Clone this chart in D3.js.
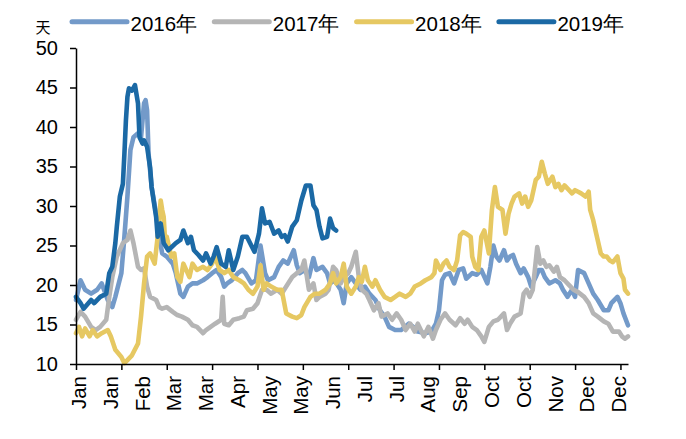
<!DOCTYPE html>
<html>
<head>
<meta charset="utf-8">
<script src="https://cdn.jsdelivr.net/npm/d3@7"></script>
<style>
  html, body { margin: 0; padding: 0; background: #fff; }
  svg text { font-family: "Liberation Sans", Arial, sans-serif; fill: #000; }
</style>
</head>
<body>
<svg id="chart" width="686" height="439"></svg>
<script>
// Series names and colours
const seriesNames = ["2016年", "2017年", "2018年", "2019年"];
const seriesColors = ["#739AC9", "#B5B5B5", "#E6C862", "#1B69A5"];

// Day of year (0 = 1 Jan) and value (天) for each year
const days2016 = [0,3,6,10,14,17,21,24,26,30,32,34,36,38,41,43,45,46,47,48,50,53,55,57,60,64,66,69,71,74,77,80,84,87,90,93,96,98,100,103,107,110,112,116,119,122,125,127,131,134,137,140,144,146,148,151,154,157,159,163,166,168,171,175,177,179,182,185,188,191,194,198,201,204,207,211,215,220,223,226,231,235,238,240,242,244,247,250,253,256,258,262,265,268,272,274,276,278,280,283,285,287,289,291,294,296,299,301,304,306,308,310,313,317,320,322,325,328,330,332,336,339,342,345,349,352,354,358,360,362,365];
const vals2016 = [18.1,20.6,19.4,18.9,19.4,20.2,18.1,17.2,18.5,21.5,26.1,31.2,37.1,38.7,39.2,38.7,43.0,43.4,42.1,36.6,32.4,29.0,26.1,24.0,23.6,22.7,21.5,18.9,18.5,19.8,20.2,20.2,20.6,21.0,21.5,21.9,21.0,19.8,20.2,20.6,21.5,21.9,21.5,20.2,20.6,25.0,21.5,20.6,21.0,22.3,23.1,22.7,24.4,22.5,21.5,21.9,21.0,23.4,21.9,22.3,21.5,20.2,20.6,19.4,17.7,20.2,21.0,20.2,19.4,19.8,18.9,18.1,16.8,16.0,14.7,14.3,14.3,15.1,14.7,14.1,13.9,14.1,15.1,16.8,20.6,21.3,21.5,20.2,21.9,22.1,20.8,21.5,21.3,21.9,20.2,22.3,25.0,23.6,23.1,24.4,23.1,23.6,23.8,22.7,21.5,22.1,21.0,19.8,21.0,21.9,21.9,21.0,20.2,20.6,20.2,19.4,18.5,19.4,18.5,21.9,21.5,20.2,18.9,18.1,16.8,16.8,17.7,18.5,17.7,16.4,14.9];

const days2017 = [0,3,6,10,13,16,20,22,24,27,31,34,36,38,41,43,45,47,49,53,55,57,60,64,67,70,74,77,80,84,86,89,92,96,97,98,101,104,108,111,113,117,120,123,126,129,133,136,139,143,146,149,151,154,157,159,161,165,167,170,172,175,177,180,182,185,187,189,192,194,197,200,202,206,209,212,215,218,221,224,226,230,233,236,238,241,244,247,251,254,257,259,262,265,268,270,273,276,279,283,285,287,290,294,296,298,300,302,305,307,309,311,313,316,318,320,323,327,329,332,336,339,342,345,349,352,355,359,361,363,365];
const vals2017 = [15.6,16.6,16.0,14.7,14.3,14.7,15.6,18.5,21.0,23.6,25.3,25.7,26.9,25.3,22.3,21.9,22.1,19.8,18.5,18.1,17.2,17.0,17.2,16.6,16.2,16.0,15.6,14.9,14.7,13.9,14.3,14.7,15.1,15.6,18.5,15.1,14.9,15.6,15.8,16.0,16.8,17.0,17.7,19.4,19.4,18.9,19.4,18.9,19.8,21.0,21.5,21.9,23.1,19.4,20.2,18.1,18.5,18.9,19.4,22.3,21.9,20.2,21.0,21.5,22.3,24.2,21.0,19.4,18.9,18.1,16.8,17.7,16.0,16.4,15.6,16.4,15.6,14.3,15.1,14.1,15.1,13.5,14.7,13.2,14.3,15.6,16.4,15.6,14.9,15.8,15.1,15.6,14.7,14.3,13.5,12.8,14.7,15.4,15.6,16.4,14.3,15.1,16.0,16.4,18.9,19.4,18.5,19.4,24.8,22.7,23.1,22.3,22.5,21.7,22.3,21.0,20.6,19.8,19.4,19.1,18.5,17.7,16.4,16.0,15.4,15.1,14.1,14.1,13.5,13.2,13.5];

const days2018 = [0,2,4,6,9,11,14,17,21,23,26,30,32,34,37,41,43,45,47,49,52,54,56,57,58,59,60,63,65,67,69,71,75,77,80,84,87,90,92,95,98,101,104,108,111,114,117,120,122,124,126,129,133,136,139,143,146,149,151,155,158,161,165,168,170,172,175,177,179,182,185,187,189,191,193,196,198,201,204,208,211,214,218,221,224,228,231,233,235,237,238,241,243,245,247,250,252,254,256,258,261,262,264,266,268,270,273,275,277,279,282,284,286,288,290,293,295,297,299,301,304,306,308,310,312,315,317,319,321,323,326,328,330,332,334,337,339,340,342,344,347,349,351,353,355,358,360,362,363,365];
const vals2018 = [13.9,14.7,13.5,14.5,13.5,14.3,13.5,13.9,14.3,13.5,11.8,10.9,10.1,10.5,11.1,12.6,16.0,20.2,23.6,24.0,22.7,26.1,30.7,29.5,28.6,25.3,26.1,23.6,24.0,21.0,20.4,22.7,21.0,22.7,21.9,22.3,21.9,22.7,23.6,21.9,21.5,21.9,21.0,20.6,20.2,19.4,18.9,19.8,22.5,19.4,20.2,19.8,19.4,19.4,16.4,16.0,15.8,16.2,17.2,18.5,18.9,18.9,19.4,20.2,21.5,20.2,21.0,22.7,19.8,18.9,19.8,21.0,20.4,22.3,20.6,19.8,20.6,19.4,18.5,18.1,18.5,18.9,18.5,18.9,19.8,20.2,20.6,20.8,21.0,21.5,23.1,21.9,22.7,23.1,22.3,21.9,23.1,26.3,26.7,26.5,26.1,23.6,22.3,21.9,26.1,26.9,24.0,29.5,32.4,29.9,29.5,26.5,29.0,30.3,31.2,31.6,30.3,31.2,29.9,30.7,33.3,33.7,35.6,34.1,32.8,33.7,32.4,32.8,32.0,32.6,32.0,31.6,32.0,31.8,31.6,31.2,31.8,29.5,28.2,26.5,24.0,23.6,23.6,23.1,22.9,23.6,21.5,20.8,19.4,18.9];

const days2019 = [0,3,5,10,12,16,20,22,24,26,27,29,31,32,33,34,35,37,39,41,42,44,45,47,49,50,53,54,56,58,61,66,69,71,74,76,78,81,84,86,89,91,93,96,99,101,104,107,110,113,118,121,123,125,128,131,134,136,138,140,143,146,149,152,155,157,159,161,163,166,168,170,172];
const vals2019 = [18.5,17.7,17.0,18.1,17.7,18.5,18.9,21.5,22.3,25.3,27.4,31.2,32.8,36.6,40.8,43.8,44.9,44.6,45.3,43.0,38.7,37.9,38.3,37.5,34.9,32.4,28.6,26.1,27.8,25.3,24.4,25.3,25.7,26.9,25.3,26.1,24.4,23.8,23.1,24.0,22.7,23.6,24.8,22.7,22.3,24.4,21.9,23.6,26.1,26.1,24.2,26.5,29.7,27.8,28.0,26.5,26.9,26.1,26.3,25.5,27.4,28.2,30.7,32.6,32.6,30.1,29.5,27.4,25.9,26.1,28.4,27.2,26.9];

// Axis ticks and labels
const yTickValues = [10, 15, 20, 25, 30, 35, 40, 45, 50];
const xTickDays = [0, 30, 60, 90, 120, 150, 180, 210, 240, 270, 300, 330, 360];
const monthLabels = ["Jan","Jan","Feb","Mar","Mar","Apr","May","May","Jun","Jul","Jul","Aug","Sep","Oct","Oct","Nov","Dec","Dec"];
const labelStepDays = 21;
const unitLabel = "天";

const seriesDays = [days2016, days2017, days2018, days2019];
const seriesVals = [vals2016, vals2017, vals2018, vals2019];
const series = seriesNames.map((name, i) => ({
  name,
  color: seriesColors[i],
  points: seriesDays[i].map((d, j) => ({ day: d, value: seriesVals[i][j] }))
}));

const svg = d3.select("#chart");
const plot = { left: 76, right: 628, top: 48, bottom: 364 };

const x = d3.scaleLinear().domain([0, 365]).range([plot.left, plot.right]);
const y = d3.scaleLinear().domain([10, 50]).range([plot.bottom, plot.top]);

// Lines
const line = d3.line().x(d => x(d.day)).y(d => y(d.value));
svg.append("g")
  .selectAll("path")
  .data(series)
  .join("path")
  .attr("d", d => line(d.points))
  .attr("fill", "none")
  .attr("stroke", d => d.color)
  .attr("stroke-width", 4.6)
  .attr("stroke-linejoin", "round")
  .attr("stroke-linecap", "round");

// Y axis
const yAxis = svg.append("g")
  .attr("transform", `translate(${plot.left},0)`)
  .call(d3.axisLeft(y).tickValues(yTickValues).tickSize(6).tickPadding(12).tickSizeOuter(0));
yAxis.selectAll("text").attr("font-size", 20).style("font-family", '"Liberation Sans", Arial, sans-serif');

// X axis with monthly-spaced tick marks
const xAxis = svg.append("g")
  .attr("transform", `translate(0,${plot.bottom})`)
  .call(d3.axisBottom(x).tickValues(xTickDays).tickSize(6).tickFormat("").tickSizeOuter(0));

// X axis date labels
const labelDays = monthLabels.map((_, i) => i * labelStepDays);
const xLabels = svg.append("g")
  .attr("transform", `translate(0,${plot.bottom})`)
  .call(d3.axisBottom(x).tickValues(labelDays).tickSize(0).tickFormat((d, i) => monthLabels[i]));
xLabels.select(".domain").remove();
xLabels.selectAll("text")
  .attr("transform", "rotate(-90)")
  .attr("x", -12)
  .attr("y", 0)
  .attr("dy", "0.47em")
  .attr("text-anchor", "end")
  .attr("font-size", 20.5)
  .style("font-family", '"Liberation Sans", Arial, sans-serif');

[yAxis, xAxis].forEach(g => {
  g.selectAll("path, line").attr("stroke", "#000").attr("stroke-width", 1.5);
});

// Unit label
svg.append("text")
  .attr("x", 43)
  .attr("y", 33)
  .attr("text-anchor", "middle")
  .attr("font-size", 15)
  .style("font-family", '"Noto Sans CJK SC", sans-serif')
  .text(unitLabel);

// Legend
const legend = svg.append("g")
  .selectAll("g")
  .data(series)
  .join("g")
  .attr("transform", (d, i) => `translate(${72 + i * 142.3},0)`);
legend.append("line")
  .attr("x1", 0).attr("x2", 55)
  .attr("y1", 21.7).attr("y2", 21.7)
  .attr("stroke", d => d.color)
  .attr("stroke-width", 5)
  .attr("stroke-linecap", "round");
legend.append("text")
  .attr("x", 58.5)
  .attr("y", 31)
  .attr("font-size", 20.5)
  .text(d => d.name);
</script>
</body>
</html>
